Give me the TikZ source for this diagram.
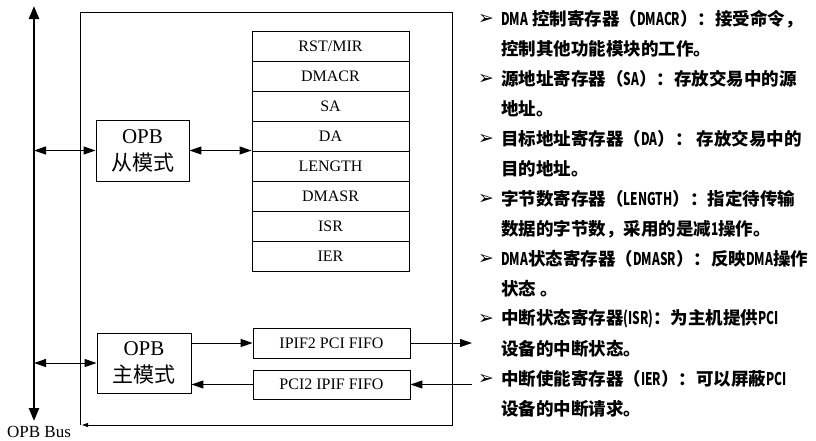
\documentclass[tikz,border=0pt]{standalone}
\usepackage{fontspec}
\setmainfont{Liberation Serif}
\newfontfamily\cjk{Noto Sans CJK SC}
\newfontfamily\cjknarrow[FakeStretch=0.68]{Noto Sans CJK SC}
\newfontfamily\symfont{DejaVu Sans}
\newcommand\nw[1]{{\cjknarrow\bfseries #1}}
\usetikzlibrary{arrows.meta}

\begin{document}
\begin{tikzpicture}[x=1pt,y=-1pt,
  box/.style={draw,line width=0.9pt,inner sep=0pt},
  reg/.style={box,minimum width=157pt,minimum height=30pt,
    font=\fontsize{16}{16}\selectfont},
  fifo/.style={box,minimum width=157pt,minimum height=30pt,
    font=\fontsize{16}{16}\selectfont},
  mode/.style={box,minimum width=93pt,minimum height=61pt,align=center,
    font=\fontsize{21}{27}\selectfont},
  link/.style={line width=1pt,-{Triangle[length=12pt,width=8pt]}},
  dlink/.style={line width=1pt,{Triangle[length=12pt,width=8pt]}-{Triangle[length=12pt,width=8pt]}},
  bus/.style={line width=2.6pt,{Triangle[length=13pt,width=10pt]}-{Triangle[length=13pt,width=10pt]}},
  note/.style={anchor=west,inner sep=0pt,font=\cjk\bfseries\fontsize{17.5}{17.5}\selectfont},
  bullet/.style={anchor=center,inner sep=0pt,font=\symfont\bfseries\fontsize{19}{19}\selectfont},
]
\useasboundingbox (0,0) rectangle (816,440);

% OPB bus
\coordinate (bustop) at (34,6);
\coordinate (busbot) at (34,421);
\draw[bus] (bustop) -- (busbot);
\node[font=\fontsize{17}{17}\selectfont,inner sep=0pt] (buslabel) at (39,432) {OPB Bus};

% core frame
\coordinate (frbl) at (80,425);
\coordinate (frtl) at (80,12);
\coordinate (frtr) at (452,12);
\coordinate (frbr) at (452,425);
\draw[line width=0.9pt,-{Triangle[length=6pt,width=4pt]}]
  (frbl) -- (frtl) -- (frtr) -- (frbr) -- ([xshift=2pt]frbl);

% register file
\foreach \n/\t [count=\i from 0] in {r1/RST\slash MIR,r2/DMACR,r3/SA,r4/DA,r5/LENGTH,r6/DMASR,r7/ISR,r8/IER}
  \node[reg] (\n) at (330.5,46+30*\i) {\t};

% OPB slave / master
\node[mode] (slave) at (142.5,150.5) {OPB\\{\cjk 从模式}};
\node[mode,minimum width=94pt,minimum height=60pt] (master) at (144,363) {OPB\\{\cjk 主模式}};

% FIFOs
\node[fifo] (ipif) at (331.5,343) {IPIF2 PCI FIFO};
\node[fifo,minimum height=29pt] (pci) at (331.5,384.5) {PCI2 IPIF FIFO};

% bus attachments
\coordinate (bs) at (34,150.5);
\coordinate (bm) at (34,363);
\draw[dlink] (bs) -- (slave.west);
\draw[dlink] (bm) -- (master.west);
\draw[dlink] (slave.east) -- (slave.east -| r4.south west);

% FIFO paths
\coordinate (pciout) at (472,343);
\coordinate (pciin) at (472,384.5);
\draw[link] (ipif.west -| master.east) -- (ipif.west);
\draw[link] (ipif.east) -- (pciout);
\draw[link] (pciin) -- (pci.east);
\draw[link] (pci.west) -- (pci.west -| master.east);

% register descriptions
\foreach \y/\b/\t in {
  19/1/{\nw{DMA} 控制寄存器（\nw{DMACR}）：接受命令，},
  49/0/{控制其他功能模块的工作。},
  79/1/{源地址寄存器（\nw{SA}）：存放交易中的源},
  109/0/{地址。},
  139/1/{目标地址寄存器（\nw{DA}）： 存放交易中的},
  169/0/{目的地址。},
  199/1/{字节数寄存器（\nw{LENGTH}）：指定待传输},
  229/0/{数据的字节数，采用的是减\nw{1}操作。},
  259/1/{\nw{DMA}状态寄存器（\nw{DMASR}）：反映\nw{DMA}操作},
  289/0/{状态 。},
  319/1/{中断状态寄存器\nw{(ISR)}：为主机提供\nw{PCI}},
  349/0/{设备的中断状态。},
  379/1/{中断使能寄存器（\nw{IER}）：可以屏蔽\nw{PCI}},
  409/0/{设备的中断请求。}} {
  \node[note] (txt\y) at (501,\y) {\t};
  \ifnum\b=1 \node[bullet] (bul\y) at (486,\y) {➢};\fi
}
\end{tikzpicture}
\end{document}
